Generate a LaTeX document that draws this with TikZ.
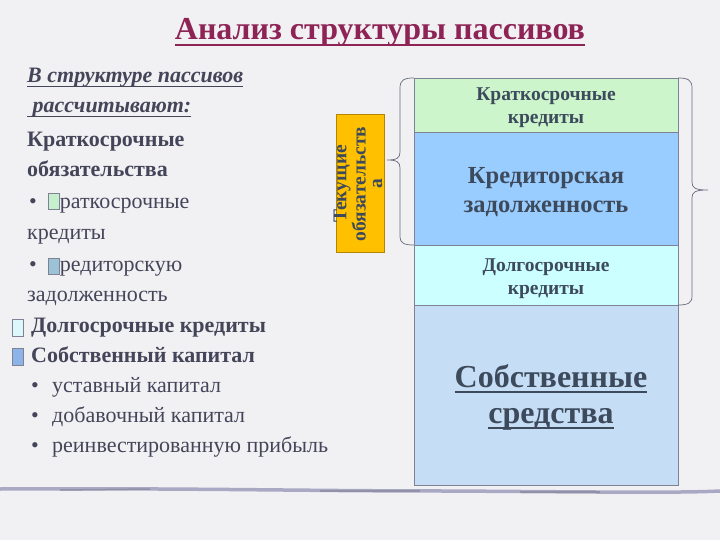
\documentclass[tikz,border=0pt]{standalone}
\usepackage{fontspec}
\setmainfont{Liberation Serif}
\definecolor{bg}{HTML}{F1F1F4}
\definecolor{txt}{HTML}{45455A}
\definecolor{ttl}{HTML}{8E2456}
\definecolor{boxtxt}{HTML}{3D4A5C}
\definecolor{edge}{HTML}{7F8294}
\definecolor{fkk}{HTML}{CCF5CC}
\definecolor{fkz}{HTML}{99CCFF}
\definecolor{fdk}{HTML}{CCFFFF}
\definecolor{fss}{HTML}{C5DDF5}
\definecolor{fyel}{HTML}{FFC000}
\definecolor{sqg}{HTML}{C6EFCE}
\definecolor{sqb}{HTML}{9CC3D5}
\definecolor{sqc}{HTML}{DDF8FA}
\definecolor{sqd}{HTML}{8DB4E8}
\definecolor{rule}{HTML}{A9A9C4}
\newsavebox{\myulbox}
\newcommand{\myul}[2]{\sbox{\myulbox}{#2}\rlap{\rule[-0.2em]{\wd\myulbox}{#1}}\usebox{\myulbox}}
\begin{document}
\begin{tikzpicture}[x=1pt,y=-1pt,
  lt/.style={anchor=base west,inner sep=0pt,text=txt,font=\fontsize{22}{22}\selectfont},
  ltb/.style={lt,font=\bfseries\fontsize{22}{22}\selectfont},
  lti/.style={lt,font=\bfseries\itshape\fontsize{22}{22}\selectfont},
  blk/.style={draw=edge,line width=0.8pt},
  sq/.style={draw=edge,line width=0.6pt},
  btxt/.style={align=center,text=boxtxt,inner sep=0pt},
  brace/.style={draw=txt!80,line width=0.7pt}]
\useasboundingbox (0,0) rectangle (720,540);
\fill[bg] (0,0) rectangle (720,540);
% title
\node[anchor=base,text=ttl,font=\bfseries\fontsize{32}{32}\selectfont,inner sep=0pt] (title) at (380,40) {\myul{2pt}{Анализ структуры пассивов}};
% left text
\node[lti] (l1) at (27,83) {\myul{1.5pt}{В структуре пассивов}};
\node[lti] (l2) at (27,113) {\myul{1.5pt}{ рассчитывают:}};
\node[ltb] (l3) at (27,147) { Краткосрочные};
\node[ltb] (l4) at (27,177) {обязательства};
\node[lt] (b1) at (29,209) {•};
\node[lt] (l5) at (49,209) {краткосрочные};
\node[lt] (l6) at (27,240) {кредиты};
\node[lt] (b2) at (29,271) {•};
\node[lt] (l7) at (49,271) {кредиторскую};
\node[lt] (l8) at (27,301) {задолженность};
\node[ltb] (l9) at (31,332) {Долгосрочные кредиты};
\node[ltb] (l10) at (31,362) {Собственный капитал};
\node[lt] (b3) at (31,392) {•};
\node[lt] (l11) at (52,392) {уставный капитал};
\node[lt] (b4) at (31,422) {•};
\node[lt] (l12) at (52,422) {добавочный капитал};
\node[lt] (b5) at (31,452) {•};
\node[lt] (l13) at (52,452) {реинвестированную прибыль};
% legend squares
\path[sq,fill=sqg] (48,193) rectangle (59,209);
\path[sq,fill=sqb] (48,258) rectangle (59,274);
\path[sq,fill=sqc] (12,319) rectangle (23,336);
\path[sq,fill=sqd] (12,348) rectangle (23,365);
% right stack
\path[blk,fill=fkk] (414,78) rectangle (678,132);
\path[blk,fill=fkz] (414,132) rectangle (678,245);
\path[blk,fill=fdk] (414,245) rectangle (678,305);
\path[blk,fill=fss] (414,305) rectangle (678,485);
\node[btxt,font=\bfseries\fontsize{19.5}{23}\selectfont] (kk) at (546,108) {Краткосрочные\\кредиты};
\node[btxt,font=\bfseries\fontsize{24.5}{29}\selectfont] (kz) at (546,192) {Кредиторская\\задолженность};
\node[btxt,font=\bfseries\fontsize{19.5}{23}\selectfont] (dk) at (546,279) {Долгосрочные\\кредиты};
\node[btxt,font=\bfseries\fontsize{32}{36}\selectfont] (ss) at (551,397) {\myul{2pt}{Собственные}\\\myul{2pt}{средства}};
% yellow box
\path[draw=fyel!70!black,line width=0.6pt,fill=fyel] (336,114) rectangle (384,252);
\node[btxt,rotate=90,font=\bfseries\fontsize{19.5}{16.5}\selectfont] (tek) at (358,184) {Текущие\\обязательств\\а};
% braces
\draw[brace] (414,78) .. controls (404,78) and (400,80) .. (400,88) -- (400,152)
  .. controls (400,158) and (397,160) .. (387,160)
  .. controls (397,160) and (400,162) .. (400,168) -- (400,237)
  .. controls (400,243) and (404,245) .. (414,245);
\draw[brace] (678,78) .. controls (688,78) and (692,80) .. (692,88) -- (692,182)
  .. controls (692,188) and (695,190) .. (708,190)
  .. controls (695,190) and (692,192) .. (692,198) -- (692,296)
  .. controls (692,303) and (688,305) .. (678,305);
% bottom rule
\draw[rule,line width=3.5pt,line cap=round] (0,489) .. controls (200,488) and (300,491) .. (450,491) .. controls (600,492) and (680,493) .. (720,491);
\draw[rule!85!black,line width=1.5pt] (60,490) -- (150,489);
\draw[rule!85!black,line width=1.5pt] (320,491) -- (420,491);
\draw[rule!85!black,line width=1.5pt] (520,492) -- (600,492);
\end{tikzpicture}
\end{document}
